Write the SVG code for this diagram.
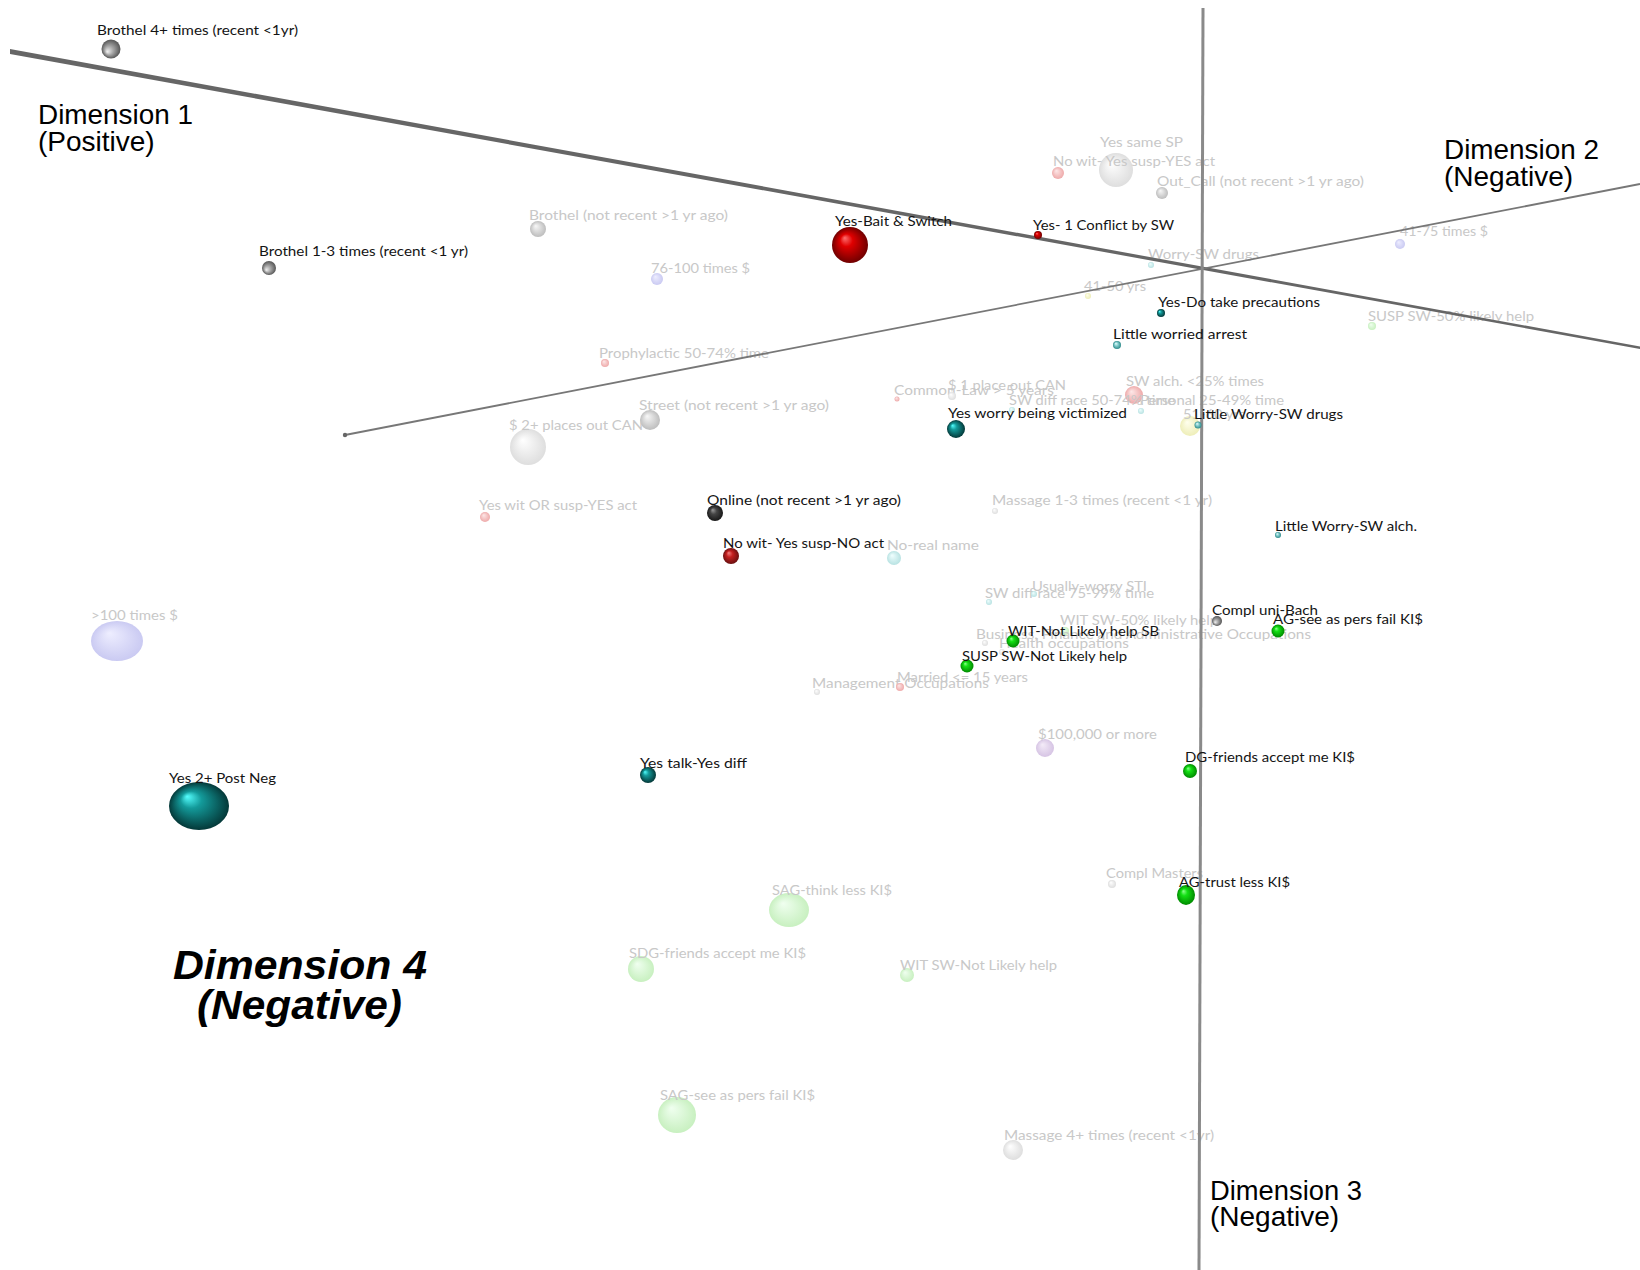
<svg xmlns="http://www.w3.org/2000/svg" width="1640" height="1270" viewBox="0 0 1640 1270">
<style>
.l{font-family:Lato,"Open Sans","Liberation Sans",sans-serif;font-size:14px;fill:#141414}
.f{font-family:Lato,"Open Sans","Liberation Sans",sans-serif;font-size:14px;fill:#c8c8c8}
.d{font-family:"Liberation Sans",Arial,sans-serif;font-size:28px;fill:#000}
.d4{font-family:"Liberation Sans",Arial,sans-serif;font-size:40px;font-weight:bold;font-style:italic;fill:#000}
</style>
<defs>
<radialGradient id="gRed" cx="0.5" cy="0.5" r="0.5" fx="0.35" fy="0.3"><stop offset="0" stop-color="#ff7070"/><stop offset="0.35" stop-color="#e00000"/><stop offset="1" stop-color="#700000"/></radialGradient>
<radialGradient id="gDRed" cx="0.5" cy="0.5" r="0.5" fx="0.35" fy="0.3"><stop offset="0" stop-color="#f08080"/><stop offset="0.4" stop-color="#c42020"/><stop offset="1" stop-color="#6a1010"/></radialGradient>
<radialGradient id="gTeal" cx="0.5" cy="0.5" r="0.5" fx="0.3" fy="0.3"><stop offset="0" stop-color="#5ff"/><stop offset="0.35" stop-color="#139a9a"/><stop offset="1" stop-color="#043838"/></radialGradient>
<radialGradient id="gGreen" cx="0.5" cy="0.5" r="0.5" fx="0.35" fy="0.3"><stop offset="0" stop-color="#90ff90"/><stop offset="0.35" stop-color="#14e014"/><stop offset="1" stop-color="#008a00"/></radialGradient>
<radialGradient id="gGray" cx="0.5" cy="0.5" r="0.5" fx="0.3" fy="0.65"><stop offset="0" stop-color="#f2f2f2"/><stop offset="0.45" stop-color="#a8a8a8"/><stop offset="1" stop-color="#555"/></radialGradient>
<radialGradient id="gDark" cx="0.5" cy="0.5" r="0.5" fx="0.35" fy="0.3"><stop offset="0" stop-color="#9a9a9a"/><stop offset="0.4" stop-color="#454545"/><stop offset="1" stop-color="#181818"/></radialGradient>
<radialGradient id="gLTeal" cx="0.5" cy="0.5" r="0.5" fx="0.35" fy="0.3"><stop offset="0" stop-color="#e8ffff"/><stop offset="0.5" stop-color="#7cc8c8"/><stop offset="1" stop-color="#2e8a8a"/></radialGradient>
<radialGradient id="gPink" cx="0.5" cy="0.5" r="0.5" fx="0.35" fy="0.3"><stop offset="0" stop-color="#fde8e8"/><stop offset="1" stop-color="#eeaaaa"/></radialGradient>
<radialGradient id="gLav" cx="0.5" cy="0.5" r="0.5" fx="0.35" fy="0.3"><stop offset="0" stop-color="#eeeeff"/><stop offset="1" stop-color="#cacaf2"/></radialGradient>
<radialGradient id="gPurp" cx="0.5" cy="0.5" r="0.5" fx="0.35" fy="0.3"><stop offset="0" stop-color="#f4ecf8"/><stop offset="1" stop-color="#d6c4e4"/></radialGradient>
<radialGradient id="gLGreen" cx="0.5" cy="0.5" r="0.5" fx="0.35" fy="0.3"><stop offset="0" stop-color="#f0fff0"/><stop offset="1" stop-color="#c8f0c0"/></radialGradient>
<radialGradient id="gWhite" cx="0.5" cy="0.5" r="0.5" fx="0.35" fy="0.3"><stop offset="0" stop-color="#ffffff"/><stop offset="1" stop-color="#dedede"/></radialGradient>
<radialGradient id="gLGray" cx="0.5" cy="0.5" r="0.5" fx="0.35" fy="0.3"><stop offset="0" stop-color="#f8f8f8"/><stop offset="1" stop-color="#bdbdbd"/></radialGradient>
<radialGradient id="gFTeal" cx="0.5" cy="0.5" r="0.5" fx="0.35" fy="0.3"><stop offset="0" stop-color="#f0ffff"/><stop offset="1" stop-color="#b8e2e2"/></radialGradient>
<radialGradient id="gYellow" cx="0.5" cy="0.5" r="0.5" fx="0.35" fy="0.3"><stop offset="0" stop-color="#ffffee"/><stop offset="1" stop-color="#eeeeb8"/></radialGradient>
</defs>
<rect width="1640" height="1270" fill="#fff"/>

<g id="faint-points">
<g id="p-yes-same-sp"><circle cx="1116" cy="170" r="17" fill="url(#gWhite)"/><text class="f" x="1100" y="147" textLength="83" lengthAdjust="spacingAndGlyphs">Yes same SP</text></g>
<g id="p-nowit-yes-act"><circle cx="1058" cy="173" r="6" fill="url(#gPink)"/><text class="f" x="1053" y="166" textLength="162" lengthAdjust="spacingAndGlyphs">No wit- Yes susp-YES act</text></g>
<g id="p-outcall"><circle cx="1162" cy="193" r="6" fill="url(#gLGray)"/><text class="f" x="1157" y="186" textLength="207" lengthAdjust="spacingAndGlyphs">Out_Call (not recent &gt;1 yr ago)</text></g>
<g id="p-brothel-not-recent"><circle cx="538" cy="229" r="8" fill="url(#gLGray)"/><text class="f" x="529" y="220" textLength="199" lengthAdjust="spacingAndGlyphs">Brothel (not recent &gt;1 yr ago)</text></g>
<g id="p-76-100"><circle cx="657" cy="279" r="6" fill="url(#gLav)"/><text class="f" x="651" y="273" textLength="99" lengthAdjust="spacingAndGlyphs">76-100 times $</text></g>
<g id="p-41-75"><circle cx="1400" cy="244" r="5" fill="url(#gLav)"/><text class="f" x="1400" y="236" textLength="88" lengthAdjust="spacingAndGlyphs">41-75 times $</text></g>
<g id="p-worry-drugs"><circle cx="1151" cy="265" r="3" fill="url(#gFTeal)"/><text class="f" x="1148" y="259" textLength="111" lengthAdjust="spacingAndGlyphs">Worry-SW drugs</text></g>
<g id="p-41-50"><circle cx="1088" cy="296" r="3" fill="url(#gYellow)"/><text class="f" x="1084" y="291" textLength="62" lengthAdjust="spacingAndGlyphs">41-50 yrs</text></g>
<g id="p-susp-50"><circle cx="1372" cy="326" r="4" fill="url(#gLGreen)"/><text class="f" x="1368" y="321" textLength="166" lengthAdjust="spacingAndGlyphs">SUSP SW-50% likely help</text></g>
<g id="p-prophylactic"><circle cx="605" cy="363" r="4" fill="url(#gPink)"/><text class="f" x="599" y="358" textLength="170" lengthAdjust="spacingAndGlyphs">Prophylactic 50-74% time</text></g>
<g id="p-common-law"><circle cx="897" cy="399" r="2.5" fill="url(#gPink)"/><text class="f" x="894" y="395" textLength="160" lengthAdjust="spacingAndGlyphs">Common-Law &gt; 5 years</text></g>
<g id="p-1-place"><circle cx="952" cy="396" r="4" fill="url(#gWhite)"/><text class="f" x="948" y="390" textLength="118" lengthAdjust="spacingAndGlyphs">$ 1 place out CAN</text></g>
<g id="p-sw-alch"><circle cx="1134" cy="395" r="9" fill="url(#gPink)"/><text class="f" x="1126" y="386" textLength="138" lengthAdjust="spacingAndGlyphs">SW alch. &lt;25% times</text></g>
<g id="p-race-50"><circle cx="1012" cy="410" r="3" fill="url(#gFTeal)"/><text class="f" x="1009" y="405" textLength="166" lengthAdjust="spacingAndGlyphs">SW diff race 50-74% time</text></g>
<g id="p-personal"><circle cx="1141" cy="411" r="3" fill="url(#gFTeal)"/><text class="f" x="1140" y="405" textLength="144" lengthAdjust="spacingAndGlyphs">Personal 25-49% time</text></g>
<g id="p-51-60"><circle cx="1190" cy="426" r="10" fill="url(#gYellow)"/><text class="f" x="1183" y="419" textLength="62" lengthAdjust="spacingAndGlyphs">51-60 yrs</text></g>
<g id="p-street"><circle cx="650" cy="420" r="10" fill="url(#gLGray)"/><text class="f" x="639" y="410" textLength="190" lengthAdjust="spacingAndGlyphs">Street (not recent &gt;1 yr ago)</text></g>
<g id="p-2-places"><circle cx="528" cy="447" r="18" fill="url(#gWhite)"/><text class="f" x="509" y="430" textLength="134" lengthAdjust="spacingAndGlyphs">$ 2+ places out CAN</text></g>
<g id="p-yes-wit"><circle cx="485" cy="517" r="5" fill="url(#gPink)"/><text class="f" x="479" y="510" textLength="158" lengthAdjust="spacingAndGlyphs">Yes wit OR susp-YES act</text></g>
<g id="p-massage-13"><circle cx="995" cy="511" r="3" fill="url(#gWhite)"/><text class="f" x="992" y="505" textLength="220" lengthAdjust="spacingAndGlyphs">Massage 1-3 times (recent &lt;1 yr)</text></g>
<g id="p-no-real-name"><circle cx="894" cy="558" r="7" fill="url(#gFTeal)"/><text class="f" x="887" y="550" textLength="92" lengthAdjust="spacingAndGlyphs">No-real name</text></g>
<g id="p-race-75"><circle cx="989" cy="602" r="3" fill="url(#gFTeal)"/><text class="f" x="985" y="598" textLength="169" lengthAdjust="spacingAndGlyphs">SW diff race 75-99% time</text></g>
<g id="p-worry-sti"><circle cx="1034" cy="594" r="3" fill="url(#gFTeal)"/><text class="f" x="1032" y="591" textLength="115" lengthAdjust="spacingAndGlyphs">Usually-worry STI</text></g>
<g id="p-wit-50"><circle cx="1065" cy="631" r="4" fill="url(#gLGreen)"/><text class="f" x="1060" y="625" textLength="158" lengthAdjust="spacingAndGlyphs">WIT SW-50% likely help</text></g>
<g id="p-business"><circle cx="985" cy="643" r="3" fill="url(#gWhite)"/><text class="f" x="976" y="639" textLength="335" lengthAdjust="spacingAndGlyphs">Business, Finance and Administrative Occupations</text></g>
<g id="p-health"><circle cx="1002" cy="652" r="3" fill="url(#gWhite)"/><text class="f" x="999" y="648" textLength="130" lengthAdjust="spacingAndGlyphs">Health occupations</text></g>
<g id="p-management"><circle cx="817" cy="692" r="3" fill="url(#gWhite)"/><text class="f" x="812" y="688" textLength="177" lengthAdjust="spacingAndGlyphs">Management Occupations</text></g>
<g id="p-married"><circle cx="900" cy="687" r="4" fill="url(#gPink)"/><text class="f" x="897" y="682" textLength="131" lengthAdjust="spacingAndGlyphs">Married &lt;= 15 years</text></g>
<g id="p-100000"><circle cx="1045" cy="748" r="9" fill="url(#gPurp)"/><text class="f" x="1038" y="739" textLength="119" lengthAdjust="spacingAndGlyphs">$100,000 or more</text></g>
<g id="p-masters"><circle cx="1112" cy="884" r="4" fill="url(#gWhite)"/><text class="f" x="1106" y="878" textLength="97" lengthAdjust="spacingAndGlyphs">Compl Masters</text></g>
<g id="p-sag-think"><ellipse cx="789" cy="910" rx="20" ry="17" fill="url(#gLGreen)"/><text class="f" x="772" y="895" textLength="120" lengthAdjust="spacingAndGlyphs">SAG-think less KI$</text></g>
<g id="p-sdg-friends"><circle cx="641" cy="969" r="13" fill="url(#gLGreen)"/><text class="f" x="629" y="958" textLength="177" lengthAdjust="spacingAndGlyphs">SDG-friends accept me KI$</text></g>
<g id="p-wit-not"><circle cx="907" cy="975" r="7" fill="url(#gLGreen)"/><text class="f" x="900" y="970" textLength="157" lengthAdjust="spacingAndGlyphs">WIT SW-Not Likely help</text></g>
<g id="p-sag-see"><ellipse cx="677" cy="1115" rx="19" ry="18" fill="url(#gLGreen)"/><text class="f" x="660" y="1100" textLength="155" lengthAdjust="spacingAndGlyphs">SAG-see as pers fail KI$</text></g>
<g id="p-massage-4"><circle cx="1013" cy="1150" r="10" fill="url(#gWhite)"/><text class="f" x="1004" y="1140" textLength="210" lengthAdjust="spacingAndGlyphs">Massage 4+ times (recent &lt;1yr)</text></g>
<g id="p-100-times"><ellipse cx="117" cy="641" rx="26" ry="20" fill="url(#gLav)"/><text class="f" x="91" y="620" textLength="87" lengthAdjust="spacingAndGlyphs">&gt;100 times $</text></g>
</g>

<g id="axes">
<polygon points="10,49 1640,346.5 1640,349 10,54" fill="#666"/>
<line x1="345" y1="435" x2="1640" y2="184" stroke="#777" stroke-width="1.8"/>
<circle cx="345" cy="435" r="2.2" fill="#666"/>
<polygon points="1201.5,8 1204.5,8 1200.5,1270 1197.5,1270" fill="#8a8a8a"/>
</g>

<g id="dark-points">
<g id="p-brothel-4"><circle cx="111" cy="49" r="9.5" fill="url(#gGray)"/><text class="l" x="97" y="35" textLength="201" lengthAdjust="spacingAndGlyphs">Brothel 4+ times (recent &lt;1yr)</text></g>
<g id="p-brothel-13"><circle cx="269" cy="268" r="7" fill="url(#gGray)"/><text class="l" x="259" y="256" textLength="209" lengthAdjust="spacingAndGlyphs">Brothel 1-3 times (recent &lt;1 yr)</text></g>
<g id="p-bait"><circle cx="850" cy="245" r="18" fill="url(#gRed)"/><text class="l" x="835" y="226" textLength="117" lengthAdjust="spacingAndGlyphs">Yes-Bait &amp; Switch</text></g>
<g id="p-conflict"><circle cx="1038" cy="235" r="4" fill="url(#gRed)"/><text class="l" x="1033" y="230" textLength="141" lengthAdjust="spacingAndGlyphs">Yes- 1 Conflict by SW</text></g>
<g id="p-precautions"><circle cx="1161" cy="313" r="4" fill="url(#gTeal)"/><text class="l" x="1158" y="307" textLength="162" lengthAdjust="spacingAndGlyphs">Yes-Do take precautions</text></g>
<g id="p-worried-arrest"><circle cx="1117" cy="345" r="4" fill="url(#gLTeal)"/><text class="l" x="1113" y="339" textLength="134" lengthAdjust="spacingAndGlyphs">Little worried arrest</text></g>
<g id="p-victimized"><circle cx="956" cy="429" r="9" fill="url(#gTeal)"/><text class="l" x="948" y="418" textLength="179" lengthAdjust="spacingAndGlyphs">Yes worry being victimized</text></g>
<g id="p-little-drugs"><circle cx="1198" cy="425" r="3.5" fill="url(#gLTeal)"/><text class="l" x="1194" y="419" textLength="149" lengthAdjust="spacingAndGlyphs">Little Worry-SW drugs</text></g>
<g id="p-online"><circle cx="715" cy="513" r="8" fill="url(#gDark)"/><text class="l" x="707" y="505" textLength="194" lengthAdjust="spacingAndGlyphs">Online (not recent &gt;1 yr ago)</text></g>
<g id="p-nowit-no-act"><circle cx="731" cy="556" r="8" fill="url(#gDRed)"/><text class="l" x="723" y="548" textLength="161" lengthAdjust="spacingAndGlyphs">No wit- Yes susp-NO act</text></g>
<g id="p-little-alch"><circle cx="1278" cy="535" r="3" fill="url(#gLTeal)"/><text class="l" x="1275" y="531" textLength="142" lengthAdjust="spacingAndGlyphs">Little Worry-SW alch.</text></g>
<g id="p-bach"><circle cx="1217" cy="621" r="5" fill="url(#gGray)"/><text class="l" x="1212" y="615" textLength="106" lengthAdjust="spacingAndGlyphs">Compl uni-Bach</text></g>
<g id="p-ag-see"><circle cx="1278" cy="631" r="6.5" fill="url(#gGreen)"/><text class="l" x="1273" y="624" textLength="150" lengthAdjust="spacingAndGlyphs">AG-see as pers fail KI$</text></g>
<g id="p-wit-not-sb"><circle cx="1013" cy="641" r="6.5" fill="url(#gGreen)"/><text class="l" x="1008" y="636" textLength="151" lengthAdjust="spacingAndGlyphs">WIT-Not Likely help SB</text></g>
<g id="p-susp-not"><circle cx="967" cy="666" r="6.5" fill="url(#gGreen)"/><text class="l" x="962" y="661" textLength="165" lengthAdjust="spacingAndGlyphs">SUSP SW-Not Likely help</text></g>
<g id="p-dg-friends"><circle cx="1190" cy="771" r="7" fill="url(#gGreen)"/><text class="l" x="1185" y="762" textLength="170" lengthAdjust="spacingAndGlyphs">DG-friends accept me KI$</text></g>
<g id="p-ag-trust"><ellipse cx="1186" cy="895" rx="9" ry="10" fill="url(#gGreen)"/><text class="l" x="1179" y="887" textLength="111" lengthAdjust="spacingAndGlyphs">AG-trust less KI$</text></g>
<g id="p-yes-talk"><circle cx="648" cy="775" r="8" fill="url(#gTeal)"/><text class="l" x="640" y="768" textLength="107" lengthAdjust="spacingAndGlyphs">Yes talk-Yes diff</text></g>
<g id="p-post-neg"><ellipse cx="199" cy="806" rx="30" ry="24" fill="url(#gTeal)"/><text class="l" x="169" y="783" textLength="107" lengthAdjust="spacingAndGlyphs">Yes 2+ Post Neg</text></g>
</g>

<g id="axis-labels">
<text class="d" x="38" y="124" textLength="155" lengthAdjust="spacingAndGlyphs">Dimension 1</text>
<text class="d" x="38" y="151">(Positive)</text>
<text class="d" x="1444" y="159" textLength="155" lengthAdjust="spacingAndGlyphs">Dimension 2</text>
<text class="d" x="1444" y="186">(Negative)</text>
<text class="d" x="1210" y="1200" textLength="152" lengthAdjust="spacingAndGlyphs">Dimension 3</text>
<text class="d" x="1210" y="1226">(Negative)</text>
<text class="d4" x="173" y="979" textLength="254" lengthAdjust="spacingAndGlyphs">Dimension 4</text>
<text class="d4" x="197" y="1019" textLength="205" lengthAdjust="spacingAndGlyphs">(Negative)</text>
</g>
</svg>
